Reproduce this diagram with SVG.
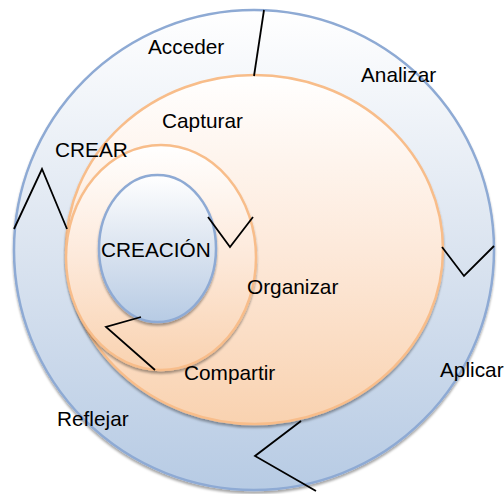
<svg xmlns="http://www.w3.org/2000/svg" width="504" height="494" viewBox="0 0 504 494">
<defs>
<linearGradient id="gBlue" x1="0" y1="0" x2="0" y2="1">
<stop offset="0" stop-color="#ffffff"/>
<stop offset="0.5" stop-color="#dbe4f0"/>
<stop offset="1" stop-color="#b7cbe4"/>
</linearGradient>
<linearGradient id="gOrange" x1="0" y1="0" x2="0" y2="1">
<stop offset="0" stop-color="#ffffff"/>
<stop offset="0.5" stop-color="#fde9da"/>
<stop offset="1" stop-color="#f9d2b0"/>
</linearGradient>
<filter id="sh" x="-10%" y="-10%" width="120%" height="125%">
<feDropShadow dx="0" dy="2.5" stdDeviation="1.2" flood-color="#000" flood-opacity="0.35"/>
</filter>
</defs>
<style>
.blue{fill:url(#gBlue);stroke:#8eaad4;stroke-width:2.5;filter:url(#sh)}
.orange{fill:url(#gOrange);stroke:#f8bd8a;stroke-width:2.5;filter:url(#sh)}
.ln{fill:none;stroke:#000;stroke-width:1.8}
text{font-family:"Liberation Sans",Arial,sans-serif;font-size:20.8px;fill:#000}
</style>
<rect width="504" height="494" fill="#fff"/>
<g id="reflejar-ring"><circle class="blue" cx="254" cy="250" r="240"/></g>
<g id="compartir-ring"><ellipse class="orange" cx="254.5" cy="249.5" rx="188.5" ry="174.5"/></g>
<g id="organizar-ring"><ellipse class="orange" cx="161" cy="257.5" rx="95" ry="112.5"/></g>
<g id="creacion"><ellipse class="blue" cx="157.5" cy="248.5" rx="58.5" ry="73.5"/><text x="101" y="257">CREACIÓN</text></g>
<g id="connectors">
<polyline class="ln" points="264,10 254,76"/>
<polyline class="ln" points="14,229 42,169 67,229"/>
<polyline class="ln" points="208,217 230,247 253,217"/>
<polyline class="ln" points="442,247 464,276 494,246"/>
<polyline class="ln" points="141,317 106,327 155,370"/>
<polyline class="ln" points="301,421 255,456 316,491"/>
</g>
<g id="labels">
<text x="148" y="54">Acceder</text>
<text x="361" y="82">Analizar</text>
<text x="162" y="128">Capturar</text>
<text x="55" y="157">CREAR</text>
<text x="247" y="294">Organizar</text>
<text x="184" y="380">Compartir</text>
<text x="440" y="377">Aplicar</text>
<text x="57" y="426">Reflejar</text>
</g>
</svg>
